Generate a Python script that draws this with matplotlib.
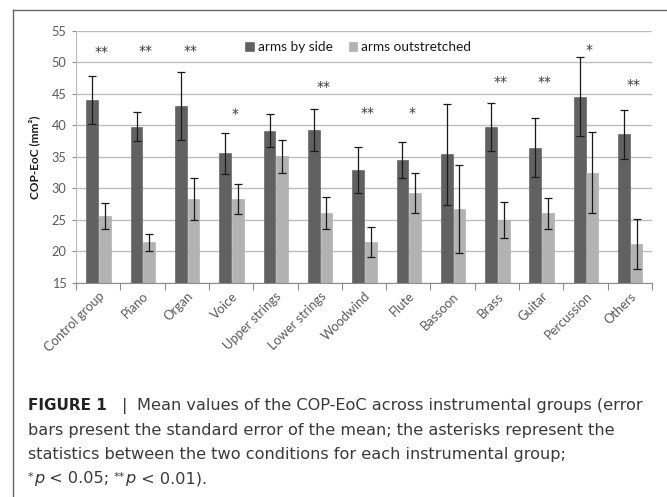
import matplotlib
matplotlib.use("Agg")
import matplotlib.pyplot as plt
import numpy as np
from matplotlib.lines import Line2D

categories = ["Control group", "Piano", "Organ", "Voice", "Upper strings", "Lower strings",
              "Woodwind", "Flute", "Bassoon", "Brass", "Guitar", "Percussion", "Others"]
arms_by_side = [44.1, 39.8, 43.1, 35.6, 39.2, 39.3, 32.9, 34.5, 35.4, 39.7, 36.5, 44.6, 38.6]
arms_by_side_err = [3.8, 2.3, 5.35, 3.25, 2.65, 3.3, 3.65, 2.9, 8.0, 3.8, 4.7, 6.2, 3.9]
arms_outstretched = [25.6, 21.45, 28.3, 28.3, 35.1, 26.1, 21.55, 29.3, 26.75, 25.0, 26.05, 32.5, 21.25]
arms_outstretched_err = [2.1, 1.4, 3.3, 2.35, 2.6, 2.6, 2.35, 3.2, 7.05, 2.9, 2.5, 6.4, 3.95]
significance = ["**", "**", "**", "*", "", "**", "**", "*", "", "**", "**", "*", "**"]
star_y = [51.9, 52.0, 52.1, 42.0, 0, 46.3, 42.2, 42.2, 0, 47.2, 47.1, 52.3, 46.7]
yticks = [15, 20, 25, 30, 35, 40, 45, 50, 55]

W, H = 667, 497
fig = plt.figure(figsize=(W / 100, H / 100), dpi=100)
font = ["Lato", "DejaVu Sans"]
tick_color = "#595959"

ax = fig.add_axes([76 / W, 1 - 283 / H, (652 - 76) / W, (283 - 31) / H])
x = np.arange(len(categories))
bw = 0.265
dark = "#616161"
light = "#b2b2b2"
xd = x - bw / 2
xl = x + bw / 2 + 0.02
ax.bar(xd, arms_by_side, bw, color=dark, edgecolor="#555555", linewidth=0.4,
       label="arms by side", zorder=2)
ax.bar(xl, arms_outstretched, bw, color=light, edgecolor="#a8a8a8", linewidth=0.4,
       label="arms outstretched", zorder=2)
ekw = dict(fmt="none", ecolor="#1a1a1a", elinewidth=0.9, capsize=3.2, capthick=0.9, zorder=3)
ax.errorbar(xd, arms_by_side, yerr=arms_by_side_err, **ekw)
ax.errorbar(xl, arms_outstretched, yerr=arms_outstretched_err, **ekw)

for xi, s, sy in zip(x, significance, star_y):
    if s:
        ax.annotate(s, (xi + 0.08, sy), xytext=(0, -4.0), textcoords="offset points",
                    ha="center", va="baseline", fontsize=10, color="#3a3a3a",
                    family="DejaVu Sans")

ax.set_ylim(15, 55)
ax.set_xlim(-0.5, len(categories) - 0.5)
ax.set_yticks(yticks)
ax.set_yticklabels([str(t) for t in yticks], fontsize=9.2, color=tick_color, family=font)
ax.yaxis.grid(True, color="#bdbdbd", linewidth=1.0, zorder=0)
ax.set_axisbelow(True)
ax.set_xticks(x)
ax.set_xticklabels(categories, rotation=45, ha="right", rotation_mode="anchor",
                   fontsize=9.3, color=tick_color, family=font)
ax.set_xticks(np.arange(-0.5, len(categories), 1.0), minor=True)
ax.tick_params(axis="x", which="major", length=0, pad=5)
ax.tick_params(axis="x", which="minor", length=5, color="#8c8c8c", width=0.8)
ax.tick_params(axis="y", length=3, color="#8c8c8c", width=0.8, pad=4)
for side in ["top", "right"]:
    ax.spines[side].set_visible(False)
ax.spines["left"].set_color("#bdbdbd")
ax.spines["bottom"].set_color("#8c8c8c")
ax.set_ylabel("COP-EoC (mm²)", fontsize=8.5, fontweight="bold", family=font, color="#1a1a1a",
              labelpad=8)

ax.legend(loc="center", bbox_to_anchor=(0.49, 0.936), ncol=2, frameon=False,
          prop={"family": font, "size": 9.8}, handlelength=0.6, handleheight=0.6,
          handletextpad=0.3, columnspacing=1.2, labelcolor="#1a1a1a")

# frame
fig.add_artist(Line2D([13.5 / W, 13.5 / W], [0, 1 - 10 / H], color="#666666", lw=1.0))
fig.add_artist(Line2D([13.5 / W, 1], [1 - 10 / H, 1 - 10 / H], color="#666666", lw=1.0))

# caption
cap_font = ["DejaVu Sans"]
cap_size = 11.6
cap_color = "#3a3a3a"
renderer = fig.canvas.get_renderer()


def draw_pieces(x0, y0, pieces):
    xp = x0
    for txt, kw in pieces:
        if "x" in kw:
            xp = kw["x"]
        t = fig.text(xp / W, 1 - (y0 - kw.get("dy", 0)) / H, txt,
                     fontsize=kw.get("size", cap_size), family=cap_font,
                     color=kw.get("color", cap_color), va="baseline", ha="left",
                     fontweight=kw.get("weight", "normal"), fontstyle=kw.get("style", "normal"))
        bb = t.get_window_extent(renderer)
        xp += bb.width


draw_pieces(28, 410, [("FIGURE 1", {"weight": "bold", "size": 11.0, "color": "#222222"}),
                      ("|", {"x": 122}),
                      ("Mean values of the COP-EoC across instrumental groups (error", {"x": 137})])
draw_pieces(28, 435, [("bars present the standard error of the mean; the asterisks represent the", {})])
draw_pieces(28, 459, [("statistics between the two conditions for each instrumental group;", {})])
draw_pieces(28, 483, [("*", {"size": 8, "dy": 3}), ("p", {"style": "italic"}), (" < 0.05; ", {}),
                      ("**", {"size": 8, "dy": 3}), ("p", {"style": "italic"}), (" < 0.01).", {})])

fig.savefig("out.png", dpi=100)
